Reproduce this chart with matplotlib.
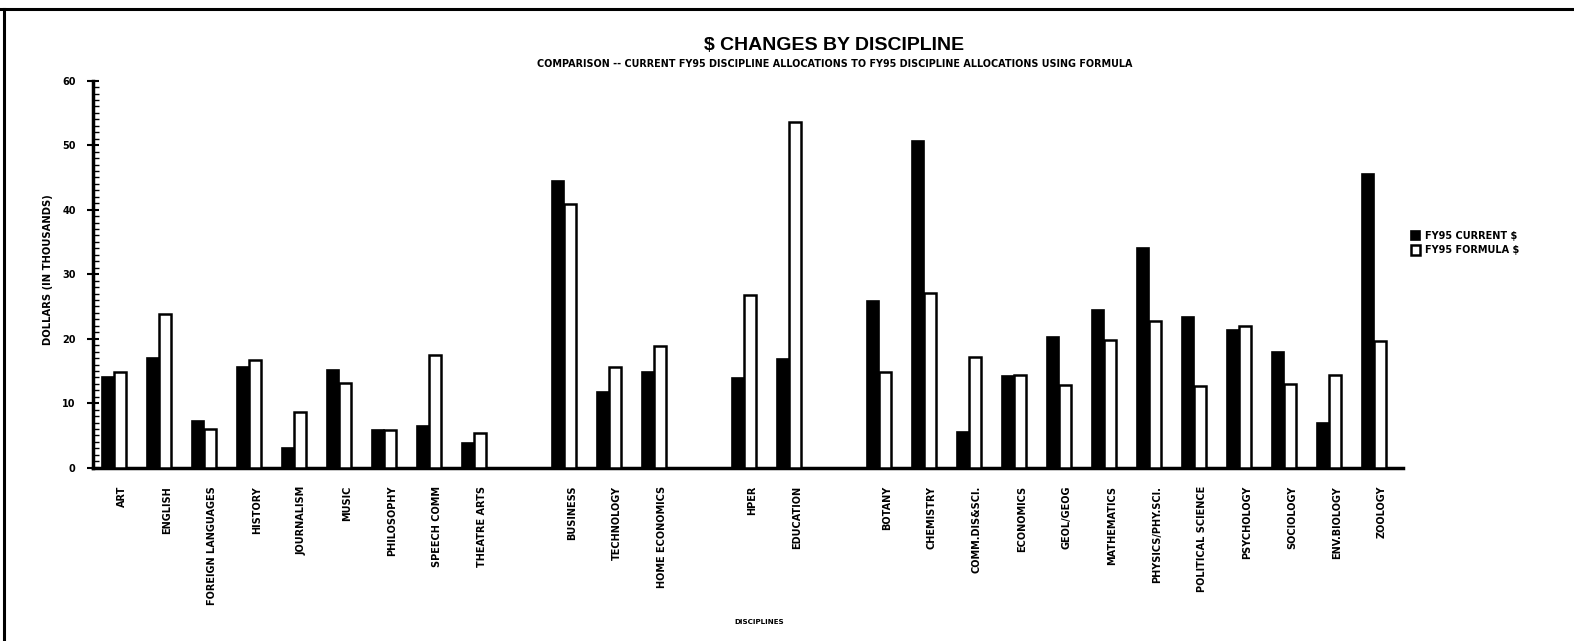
import matplotlib
matplotlib.use("Agg")
import matplotlib.pyplot as plt
from matplotlib.lines import Line2D
from matplotlib.ticker import MultipleLocator
import numpy as np

# ---- data ----
groups = [
    ["ART", "ENGLISH", "FOREIGN LANGUAGES", "HISTORY", "JOURNALISM", "MUSIC",
     "PHILOSOPHY", "SPEECH COMM", "THEATRE ARTS"],
    ["BUSINESS", "TECHNOLOGY", "HOME ECONOMICS"],
    ["HPER", "EDUCATION"],
    ["BOTANY", "CHEMISTRY", "COMM.DIS&SCI.", "ECONOMICS", "GEOL/GEOG", "MATHEMATICS",
     "PHYSICS/PHY.SCI.", "POLITICAL SCIENCE", "PSYCHOLOGY", "SOCIOLOGY",
     "ENV.BIOLOGY", "ZOOLOGY"],
]
current_vals = [14.0, 17.0, 7.2, 15.6, 3.1, 15.1, 5.9, 6.5, 3.9,
                44.4, 11.8, 14.9,
                13.9, 16.9,
                25.9, 50.6, 5.5, 14.2, 20.3, 24.4, 34.0, 23.3, 21.4, 17.9, 7.0, 45.6]
formula_vals = [14.9, 23.8, 6.0, 16.7, 8.6, 13.2, 5.9, 17.4, 5.4,
                40.9, 15.6, 18.9,
                26.7, 53.6,
                14.8, 27.1, 17.1, 14.3, 12.8, 19.8, 22.8, 12.6, 21.9, 12.9, 14.3, 19.7]
series_names = ["FY95 CURRENT $", "FY95 FORMULA $"]
yticks_vals = [0, 10, 20, 30, 40, 50, 60]

title = "$ CHANGES BY DISCIPLINE"
subtitle = "COMPARISON -- CURRENT FY95 DISCIPLINE ALLOCATIONS TO FY95 DISCIPLINE ALLOCATIONS USING FORMULA"
ylab = "DOLLARS (IN THOUSANDS)"
xlab = "DISCIPLINES"

# ---- layout ----
categories = []
positions = []
p = 0
for g in groups:
    for c in g:
        categories.append(c)
        positions.append(p)
        p += 1
    p += 1
positions = np.array(positions, dtype=float)

W, H = 1574, 641
fig = plt.figure(figsize=(W / 100, H / 100), dpi=100)
fig.patch.set_facecolor("white")

ax_left, ax_right, ax_top, ax_bot = 93, 1403, 80.7, 467.7
ax = fig.add_axes([ax_left / W, 1 - ax_bot / H, (ax_right - ax_left) / W, (ax_bot - ax_top) / H])

bw = 0.26
ax.bar(positions - 0.30, current_vals, width=bw, color="black", edgecolor="black",
       linewidth=1.2, label=series_names[0], zorder=3)
ax.bar(positions - 0.04, formula_vals, width=bw, color="white", edgecolor="black",
       linewidth=1.8, label=series_names[1], zorder=3)

ax.set_xlim(-0.64, 28.47)
ax.set_ylim(0, 60)

for s in ["top", "right"]:
    ax.spines[s].set_visible(False)
ax.spines["left"].set_linewidth(2.5)
ax.spines["bottom"].set_linewidth(2.5)

small_font = dict(family="DejaVu Sans", weight="bold")

ax.set_xticks(positions)
ax.set_xticklabels(categories, rotation=90, fontsize=7.0, **small_font)
ax.tick_params(axis="x", length=0, pad=13)

ax.set_yticks(yticks_vals)
ax.set_yticklabels([str(v) for v in yticks_vals], fontsize=7.0, **small_font)
ax.yaxis.set_minor_locator(MultipleLocator(1))
ax.tick_params(axis="y", which="major", direction="inout", length=9, width=1.5, pad=8)
ax.tick_params(axis="y", which="minor", direction="in", length=4.5, width=1.0)

title_font = ["Liberation Sans", "DejaVu Sans"]
fig.text(834 / W, 1 - 46 / H, title, ha="center", va="center", fontsize=14,
         family=title_font, weight="bold")
fig.text(835 / W, 1 - 64 / H, subtitle, ha="center", va="center", fontsize=6.9,
         **small_font)
fig.text(48 / W, 1 - 270 / H, ylab, ha="center", va="center", rotation=90,
         fontsize=7.2, **small_font)
fig.text(759 / W, 1 - 622 / H, xlab, ha="center", va="center", fontsize=5.1,
         **small_font)

leg = ax.legend(loc="upper left", bbox_to_anchor=(1411 / W, 1 - 231 / H),
                bbox_transform=fig.transFigure, frameon=False,
                prop=dict(family="DejaVu Sans", weight="bold", size=7.0),
                handlelength=0.95, handleheight=1.1, handletextpad=0.5,
                labelspacing=0.45, borderaxespad=0, borderpad=0)

# scanned page frame
fig.add_artist(Line2D([0, 1], [1 - 9 / H, 1 - 9 / H], transform=fig.transFigure,
                      color="black", linewidth=2.2))
fig.add_artist(Line2D([4 / W, 4 / W], [0, 1 - 9 / H], transform=fig.transFigure,
                      color="black", linewidth=2.2))

fig.savefig("out.png", dpi=100, facecolor="white")
